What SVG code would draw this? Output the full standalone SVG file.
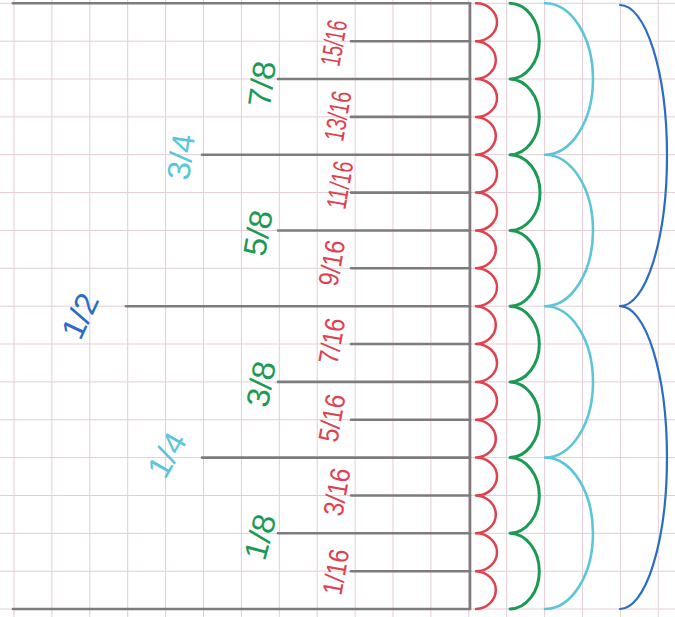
<svg xmlns="http://www.w3.org/2000/svg" width="675" height="617" viewBox="0 0 675 617">
<style>
.grid line{stroke:#e4cdd4;stroke-width:1}
.tick{stroke:#7c7c7c;stroke-width:2.6;stroke-linecap:round}
.lab{font-family:"Liberation Sans",Arial,sans-serif;text-anchor:middle;dominant-baseline:central}
.red{fill:#e0414f;font-size:28px}
.grn{fill:#1c9a55;font-size:32px}
.cyn{fill:#5cc6d8;font-size:32px}
.blu{fill:#2b6cc4;font-size:32px}
.arc{fill:none;stroke-linejoin:round;stroke-linecap:round}
</style>
<rect width="675" height="617" fill="#ffffff"/>
<g class="grid">
<line x1="14" y1="0" x2="14" y2="617"/><line x1="51.9" y1="0" x2="51.9" y2="617"/><line x1="89.8" y1="0" x2="89.8" y2="617"/><line x1="127.7" y1="0" x2="127.7" y2="617"/><line x1="165.6" y1="0" x2="165.6" y2="617"/><line x1="203.5" y1="0" x2="203.5" y2="617"/><line x1="241.4" y1="0" x2="241.4" y2="617"/><line x1="279.3" y1="0" x2="279.3" y2="617"/><line x1="317.2" y1="0" x2="317.2" y2="617"/><line x1="355.1" y1="0" x2="355.1" y2="617"/><line x1="393" y1="0" x2="393" y2="617"/><line x1="430.9" y1="0" x2="430.9" y2="617"/><line x1="468.8" y1="0" x2="468.8" y2="617"/><line x1="506.7" y1="0" x2="506.7" y2="617"/><line x1="544.6" y1="0" x2="544.6" y2="617"/><line x1="582.5" y1="0" x2="582.5" y2="617"/><line x1="620.4" y1="0" x2="620.4" y2="617"/><line x1="658.3" y1="0" x2="658.3" y2="617"/>
<line x1="0" y1="3.3" x2="675" y2="3.3"/><line x1="0" y1="41.2" x2="675" y2="41.2"/><line x1="0" y1="79" x2="675" y2="79"/><line x1="0" y1="116.9" x2="675" y2="116.9"/><line x1="0" y1="154.7" x2="675" y2="154.7"/><line x1="0" y1="192.6" x2="675" y2="192.6"/><line x1="0" y1="230.5" x2="675" y2="230.5"/><line x1="0" y1="268.3" x2="675" y2="268.3"/><line x1="0" y1="306.2" x2="675" y2="306.2"/><line x1="0" y1="344" x2="675" y2="344"/><line x1="0" y1="381.9" x2="675" y2="381.9"/><line x1="0" y1="419.8" x2="675" y2="419.8"/><line x1="0" y1="457.6" x2="675" y2="457.6"/><line x1="0" y1="495.5" x2="675" y2="495.5"/><line x1="0" y1="533.3" x2="675" y2="533.3"/><line x1="0" y1="571.2" x2="675" y2="571.2"/><line x1="0" y1="609" x2="675" y2="609"/>
</g>
<g id="ruler">
<line class="tick" x1="470" y1="3.3" x2="470" y2="609"/>
<line class="tick" x1="13" y1="3.3" x2="470" y2="3.3"/>
<line class="tick" x1="13" y1="609" x2="470" y2="609"/>
<line class="tick" x1="126" y1="306.2" x2="470" y2="306.2"/>
<line class="tick" x1="202" y1="154.7" x2="470" y2="154.7"/>
<line class="tick" x1="202" y1="457.6" x2="470" y2="457.6"/>
<line class="tick" x1="278" y1="79" x2="470" y2="79"/>
<line class="tick" x1="278" y1="230.5" x2="470" y2="230.5"/>
<line class="tick" x1="278" y1="381.9" x2="470" y2="381.9"/>
<line class="tick" x1="278" y1="533.3" x2="470" y2="533.3"/>
<line class="tick" x1="351" y1="41.2" x2="470" y2="41.2"/>
<line class="tick" x1="351" y1="116.9" x2="470" y2="116.9"/>
<line class="tick" x1="351" y1="192.6" x2="470" y2="192.6"/>
<line class="tick" x1="351" y1="268.3" x2="470" y2="268.3"/>
<line class="tick" x1="351" y1="344" x2="470" y2="344"/>
<line class="tick" x1="351" y1="419.8" x2="470" y2="419.8"/>
<line class="tick" x1="351" y1="495.5" x2="470" y2="495.5"/>
<line class="tick" x1="351" y1="571.2" x2="470" y2="571.2"/>
</g>
<g id="arcs">
<path class="arc" stroke="#e0414f" stroke-width="2.5" d="M476,3.3 A21,18.93 0 0 1 476,41.2 A21,18.93 0 0 1 476,79 A21,18.93 0 0 1 476,116.9 A21,18.93 0 0 1 476,154.7 A21,18.93 0 0 1 476,192.6 A21,18.93 0 0 1 476,230.5 A21,18.93 0 0 1 476,268.3 A21,18.93 0 0 1 476,306.2 A21,18.93 0 0 1 476,344 A21,18.93 0 0 1 476,381.9 A21,18.93 0 0 1 476,419.8 A21,18.93 0 0 1 476,457.6 A21,18.93 0 0 1 476,495.5 A21,18.93 0 0 1 476,533.3 A21,18.93 0 0 1 476,571.2 A21,18.93 0 0 1 476,609"/>
<path class="arc" stroke="#1c9a55" stroke-width="3" d="M510,3.3 A30,37.86 0 0 1 510,79 A30,37.86 0 0 1 510,154.7 A30,37.86 0 0 1 510,230.5 A30,37.86 0 0 1 510,306.2 A30,37.86 0 0 1 510,381.9 A30,37.86 0 0 1 510,457.6 A30,37.86 0 0 1 510,533.3 A30,37.86 0 0 1 510,609"/>
<path class="arc" stroke="#5cc6d8" stroke-width="2.6" d="M545,3.3 A48,75.7 0 0 1 545,154.7 A48,75.7 0 0 1 545,306.2 A48,75.7 0 0 1 545,457.6 A48,75.7 0 0 1 545,609"/>
<path class="arc" stroke="#2b6cc4" stroke-width="2.2" d="M620,5 A47,150.6 0 0 1 620,306.2 A47,151.4 0 0 1 620,609"/>
</g>
<g id="labels">
<text class="lab blu" transform="translate(80,316) rotate(-65)" textLength="46" lengthAdjust="spacingAndGlyphs">1/2</text>
<text class="lab cyn" transform="translate(181,157) rotate(-82)" textLength="46" lengthAdjust="spacingAndGlyphs">3/4</text>
<text class="lab cyn" transform="translate(167,455) rotate(-60)" textLength="46" lengthAdjust="spacingAndGlyphs">1/4</text>
<text class="lab grn" transform="translate(262,84) rotate(-82)" textLength="46" lengthAdjust="spacingAndGlyphs">7/8</text>
<text class="lab grn" transform="translate(258,233) rotate(-80)" textLength="46" lengthAdjust="spacingAndGlyphs">5/8</text>
<text class="lab grn" transform="translate(261,384) rotate(-80)" textLength="46" lengthAdjust="spacingAndGlyphs">3/8</text>
<text class="lab grn" transform="translate(260,537) rotate(-75)" textLength="46" lengthAdjust="spacingAndGlyphs">1/8</text>
<text class="lab red" transform="translate(334,43) rotate(-80)" textLength="46" lengthAdjust="spacingAndGlyphs">15/16</text>
<text class="lab red" transform="translate(338,116) rotate(-80)" textLength="50" lengthAdjust="spacingAndGlyphs">13/16</text>
<text class="lab red" transform="translate(340,185) rotate(-80)" textLength="48" lengthAdjust="spacingAndGlyphs">11/16</text>
<text class="lab red" transform="translate(332,263) rotate(-80)" textLength="46" lengthAdjust="spacingAndGlyphs">9/16</text>
<text class="lab red" transform="translate(332,341) rotate(-80)" textLength="46" lengthAdjust="spacingAndGlyphs">7/16</text>
<text class="lab red" transform="translate(332,418) rotate(-80)" textLength="48" lengthAdjust="spacingAndGlyphs">5/16</text>
<text class="lab red" transform="translate(337,492) rotate(-80)" textLength="48" lengthAdjust="spacingAndGlyphs">3/16</text>
<text class="lab red" transform="translate(336,572) rotate(-80)" textLength="46" lengthAdjust="spacingAndGlyphs">1/16</text>
</g>
</svg>
